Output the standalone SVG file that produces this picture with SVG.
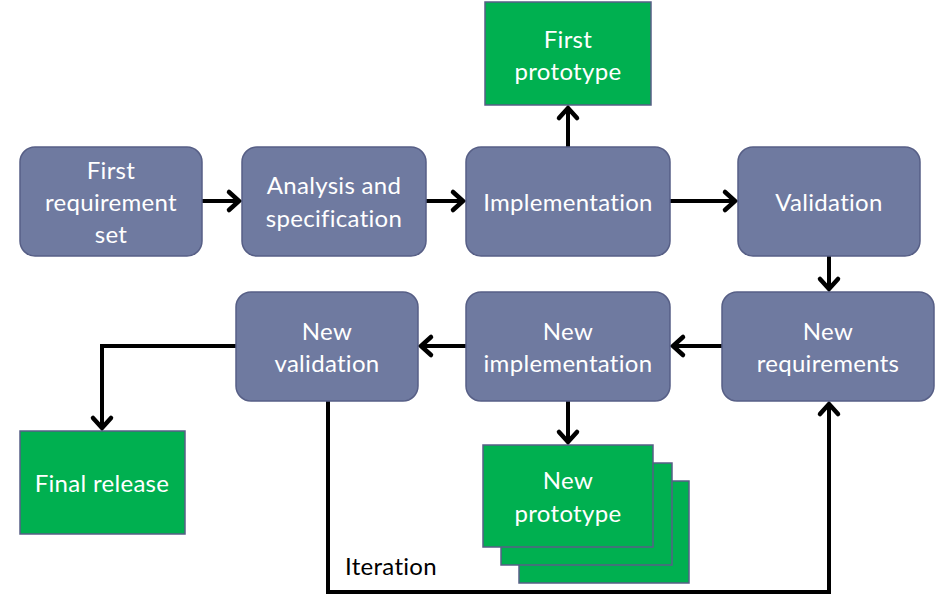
<svg xmlns="http://www.w3.org/2000/svg" width="941" height="602" viewBox="0 0 941 602">
<defs>
<style>
.proc{fill:#6f7aa0;stroke:#575f86;stroke-width:1.5}
.out{fill:#00b050;stroke:#575f86;stroke-width:1.5}
.lbl{font-family:Lato,"Open Sans","DejaVu Sans",sans-serif;font-size:24px;letter-spacing:0.3px;fill:#ffffff;text-anchor:middle}
.blk{font-family:Lato,"Open Sans","DejaVu Sans",sans-serif;font-size:24px;letter-spacing:0.3px;fill:#000000}
.con{fill:none;stroke:#000000;stroke-width:4;stroke-linejoin:miter}
</style>
<marker id="arr" markerUnits="userSpaceOnUse" viewBox="-14 -12 18 24" refX="0" refY="0" markerWidth="18" markerHeight="24" orient="auto" overflow="visible">
<path d="M-10,-9 L0,0 L-10,9" fill="none" stroke="#000000" stroke-width="4.5" stroke-linecap="round" stroke-linejoin="miter"/>
</marker>
</defs>
<rect width="941" height="602" fill="#ffffff"/>

<g id="connectors">
<path class="con" d="M202,201 H239" marker-end="url(#arr)"/>
<path class="con" d="M426,201 H463" marker-end="url(#arr)"/>
<path class="con" d="M670,201 H735" marker-end="url(#arr)"/>
<path class="con" d="M568,147 V108" marker-end="url(#arr)"/>
<path class="con" d="M829,256 V289" marker-end="url(#arr)"/>
<path class="con" d="M722,346 H673" marker-end="url(#arr)"/>
<path class="con" d="M466,346 H421" marker-end="url(#arr)"/>
<path class="con" d="M568,401 V442" marker-end="url(#arr)"/>
<path class="con" d="M236,346 H102 V428" marker-end="url(#arr)"/>
<path class="con" d="M328,401 V592 H829 V404" marker-end="url(#arr)"/>
<text class="blk" x="345" y="575">Iteration</text>
</g>

<g id="first-requirement-set">
<rect class="proc" x="20" y="147" width="182" height="109" rx="15"/>
<text class="lbl" x="111" y="179">First</text>
<text class="lbl" x="111" y="211">requirement</text>
<text class="lbl" x="111" y="243">set</text>
</g>
<g id="analysis-specification">
<rect class="proc" x="242" y="147" width="184" height="109" rx="15"/>
<text class="lbl" x="334" y="194">Analysis and</text>
<text class="lbl" x="334" y="227">specification</text>
</g>
<g id="implementation">
<rect class="proc" x="466" y="147" width="204" height="109" rx="15"/>
<text class="lbl" x="568" y="211">Implementation</text>
</g>
<g id="validation">
<rect class="proc" x="738" y="147" width="182" height="109" rx="15"/>
<text class="lbl" x="829" y="211">Validation</text>
</g>
<g id="first-prototype">
<rect class="out" x="485" y="2" width="166" height="103"/>
<text class="lbl" x="568" y="48">First</text>
<text class="lbl" x="568" y="80">prototype</text>
</g>
<g id="new-requirements">
<rect class="proc" x="722" y="292" width="212" height="109" rx="15"/>
<text class="lbl" x="828" y="340">New</text>
<text class="lbl" x="828" y="372">requirements</text>
</g>
<g id="new-implementation">
<rect class="proc" x="466" y="292" width="204" height="109" rx="15"/>
<text class="lbl" x="568" y="340">New</text>
<text class="lbl" x="568" y="372">implementation</text>
</g>
<g id="new-validation">
<rect class="proc" x="236" y="292" width="182" height="109" rx="15"/>
<text class="lbl" x="327" y="340">New</text>
<text class="lbl" x="327" y="372">validation</text>
</g>
<g id="final-release">
<rect class="out" x="20" y="431" width="165" height="103"/>
<text class="lbl" x="102" y="492">Final release</text>
</g>
<g id="new-prototype">
<rect class="out" x="519" y="481" width="170" height="102"/>
<rect class="out" x="501" y="463" width="171" height="102"/>
<rect class="out" x="483" y="445" width="170" height="102"/>
<text class="lbl" x="568" y="489">New</text>
<text class="lbl" x="568" y="522">prototype</text>
</g>
</svg>
